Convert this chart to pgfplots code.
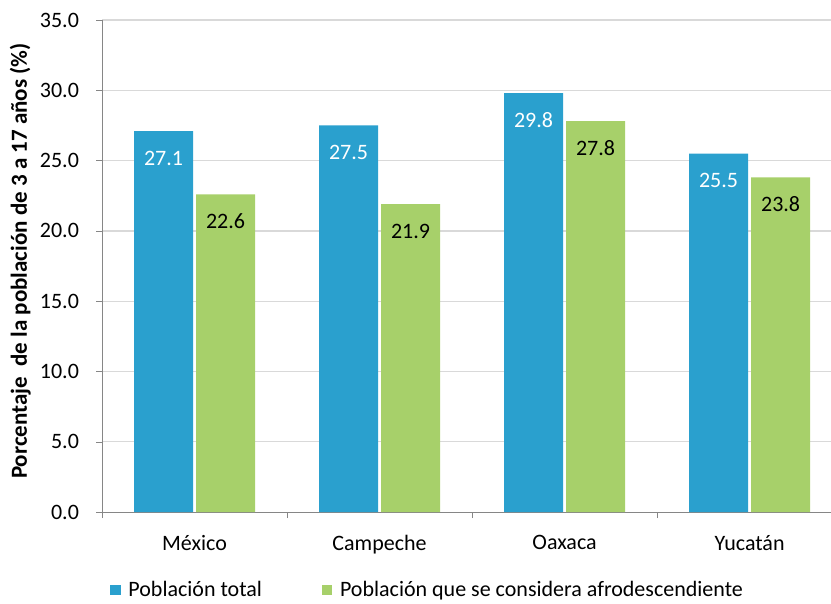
\documentclass[border=0pt]{standalone}
\usepackage{pgfplots}
\pgfplotsset{compat=1.18}
\usepackage{fontspec}
\setmainfont{Carlito}
\definecolor{cblue}{RGB}{42,160,206}
\definecolor{cgreen}{RGB}{167,208,106}
\definecolor{axgray}{RGB}{134,134,134}
\definecolor{grgray}{RGB}{217,217,217}
\begin{document}
\begin{tikzpicture}
\begin{axis}[
  x=92.5pt, y=7.03pt,
  xmin=-0.5, xmax=3.44, ymin=0, ymax=35,
  axis lines=left,
  axis line style={draw=axgray, -},
  ybar=1.5pt, bar width=29.5pt,
  xtick={0,1,2,3},
  xticklabels={México,Campeche,Oaxaca,Yucatán},
  minor xtick={-0.5,0.5,1.5,2.5},
  xtick style={draw=none},
  minor x tick style={draw=axgray},
  minor tick length=3pt,
  ytick={0,5,...,35},
  ytick style={draw=axgray},
  major tick length=3pt,
  tick align=outside,
  ymajorgrids=true,
  grid style={draw=grgray, line width=0.6pt},
  yticklabel style={/pgf/number format/fixed, /pgf/number format/fixed zerofill, /pgf/number format/precision=1, /pgf/number format/assume math mode=true, xshift=-5pt},
  ticklabel style={font=\fontsize{11}{13}\selectfont},
  xticklabel style={yshift=-5pt},
  ylabel={Porcentaje\ \ de la población de 3 a 17 años (\%)},
  ylabel style={at={(axis description cs:-0.112,0.51)}, anchor=center, font=\bfseries\fontsize{11.5}{13}\selectfont},
  nodes near coords,
  nodes near coords style={font=\fontsize{11}{13}\selectfont, anchor=center, yshift=-13.5pt, /pgf/number format/fixed, /pgf/number format/fixed zerofill, /pgf/number format/precision=1, /pgf/number format/assume math mode=true},
  legend style={at={(axis description cs:0.0,-0.158)}, anchor=west, draw=none, legend columns=2, font=\fontsize{11}{13}\selectfont,
    /tikz/every even column/.append style={column sep=27pt}},
  legend image code/.code={\fill[#1] (1pt,-2.6pt) rectangle (6.2pt,2.6pt); \path (0pt,0pt) (8pt,0pt);},
]
\addplot[fill=cblue, draw=none, nodes near coords style={text=white}] coordinates {(0,27.1) (1,27.5) (2,29.8) (3,25.5)};
\addplot[fill=cgreen, draw=none, nodes near coords style={text=black}] coordinates {(0,22.6) (1,21.9) (2,27.8) (3,23.8)};
\legend{Población total, Población que se considera afrodescendiente}
\coordinate (o) at (rel axis cs:0,0);
\coordinate (t) at (rel axis cs:1,1);
\end{axis}
\pgfresetboundingbox
\path ([shift={(-51pt,-45.5pt)}]o) rectangle ([shift={(0pt,10pt)}]t);
\end{tikzpicture}
\end{document}
